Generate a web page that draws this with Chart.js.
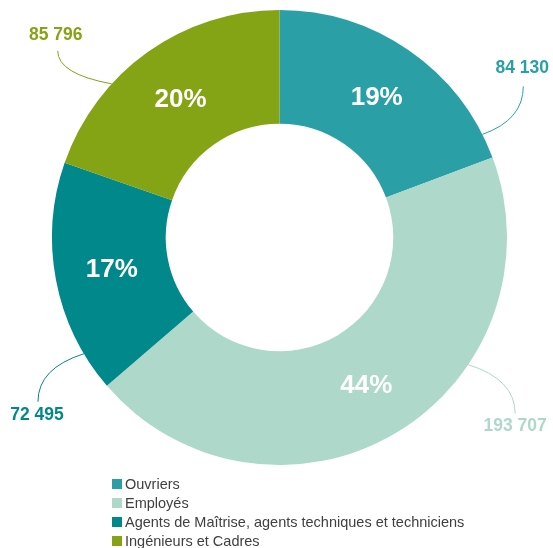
<!DOCTYPE html>
<html>
<head>
<meta charset="utf-8">
<script src="https://cdn.jsdelivr.net/npm/chart.js@4"></script>
<style>
  html, body { margin: 0; padding: 0; background: #ffffff; }
  #wrap { width: 553px; height: 548px; }
</style>
</head>
<body>
<div id="wrap"><canvas id="c" width="553" height="548"></canvas></div>
<script>
// ---- data ----
const categories = ['Ouvriers', 'Employés', 'Agents de Maîtrise, agents techniques et techniciens', 'Ingénieurs et Cadres'];
const seriesValues = [84130, 193707, 72495, 85796];
const sliceColors = ['#2AA0A6', '#AED8C9', '#00888A', '#84A315'];

// ---- label layout (styling, not data) ----
// frac: where on the slice's outer edge the leader starts; line/text: offsets from that point
const calloutLayout = [
  { frac: 0.908, line: [41, -48], text: [40, -66] },
  { frac: 0.341, line: [47, 49], text: [47, 62] },
  { frac: 0.166, line: [-46, 48], text: [-47, 61] },
  { frac: 0.329, line: [-54, -33], text: [-56, -49] }
];
const FONT = "'Liberation Sans', Arial, Helvetica, sans-serif";

function fmtThousands(v) {
  return String(v).replace(/\B(?=(\d{3})+(?!\d))/g, ' ');
}

const labelsPlugin = {
  id: 'labelsPlugin',
  afterDatasetsDraw(chart) {
    const ctx = chart.ctx;
    const meta = chart.getDatasetMeta(0);
    const data = chart.data.datasets[0].data;
    const total = data.reduce((a, b) => a + b, 0);
    ctx.save();
    meta.data.forEach((arc, i) => {
      // percentage inside
      const pos = arc.tooltipPosition();
      ctx.fillStyle = '#ffffff';
      ctx.font = 'bold 26px ' + FONT;
      ctx.textAlign = 'center';
      ctx.textBaseline = 'middle';
      ctx.fillText(Math.round(data[i] / total * 100) + '%', pos.x, pos.y + 1);

      // callout with value
      const p = arc.getProps(['x', 'y', 'startAngle', 'endAngle', 'outerRadius'], true);
      const L = calloutLayout[i];
      const a = p.startAngle + L.frac * (p.endAngle - p.startAngle);
      const ax = p.x + p.outerRadius * Math.cos(a);
      const ay = p.y + p.outerRadius * Math.sin(a);
      const ex = ax + L.line[0];
      const ey = ay + L.line[1];
      const cx = ex;
      const cy = ay + 0.3 * (ey - ay);
      ctx.strokeStyle = sliceColors[i];
      ctx.lineWidth = 1;
      ctx.beginPath();
      ctx.moveTo(ax, ay);
      ctx.quadraticCurveTo(cx, cy, ex, ey);
      ctx.stroke();

      ctx.fillStyle = sliceColors[i];
      ctx.font = 'bold 17.5px ' + FONT;
      ctx.textAlign = 'center';
      ctx.textBaseline = 'middle';
      ctx.fillText(fmtThousands(data[i]), ax + L.text[0], ay + L.text[1]);
    });
    ctx.restore();
  },
  afterDraw(chart) {
    // legend, stacked vertically at bottom left
    const ctx = chart.ctx;
    ctx.save();
    ctx.font = '14.5px ' + FONT;
    ctx.textAlign = 'left';
    ctx.textBaseline = 'alphabetic';
    const x0 = 112, base0 = 488.5, step = 19;
    categories.forEach((name, i) => {
      const by = base0 + i * step;
      ctx.fillStyle = sliceColors[i];
      ctx.fillRect(x0, by - 9.5, 10, 10);
      ctx.fillStyle = '#404040';
      ctx.fillText(name, x0 + 13, by);
    });
    ctx.restore();
  }
};

new Chart(document.getElementById('c'), {
  type: 'doughnut',
  data: {
    labels: categories,
    datasets: [{
      data: seriesValues,
      backgroundColor: sliceColors,
      borderWidth: 0,
      hoverOffset: 0
    }]
  },
  options: {
    responsive: false,
    devicePixelRatio: 1,
    animation: false,
    cutout: '50%',
    layout: { padding: { left: 52, right: 46, top: 10, bottom: 83 } },
    plugins: {
      legend: { display: false },
      tooltip: { enabled: false }
    }
  },
  plugins: [labelsPlugin]
});
</script>
</body>
</html>
